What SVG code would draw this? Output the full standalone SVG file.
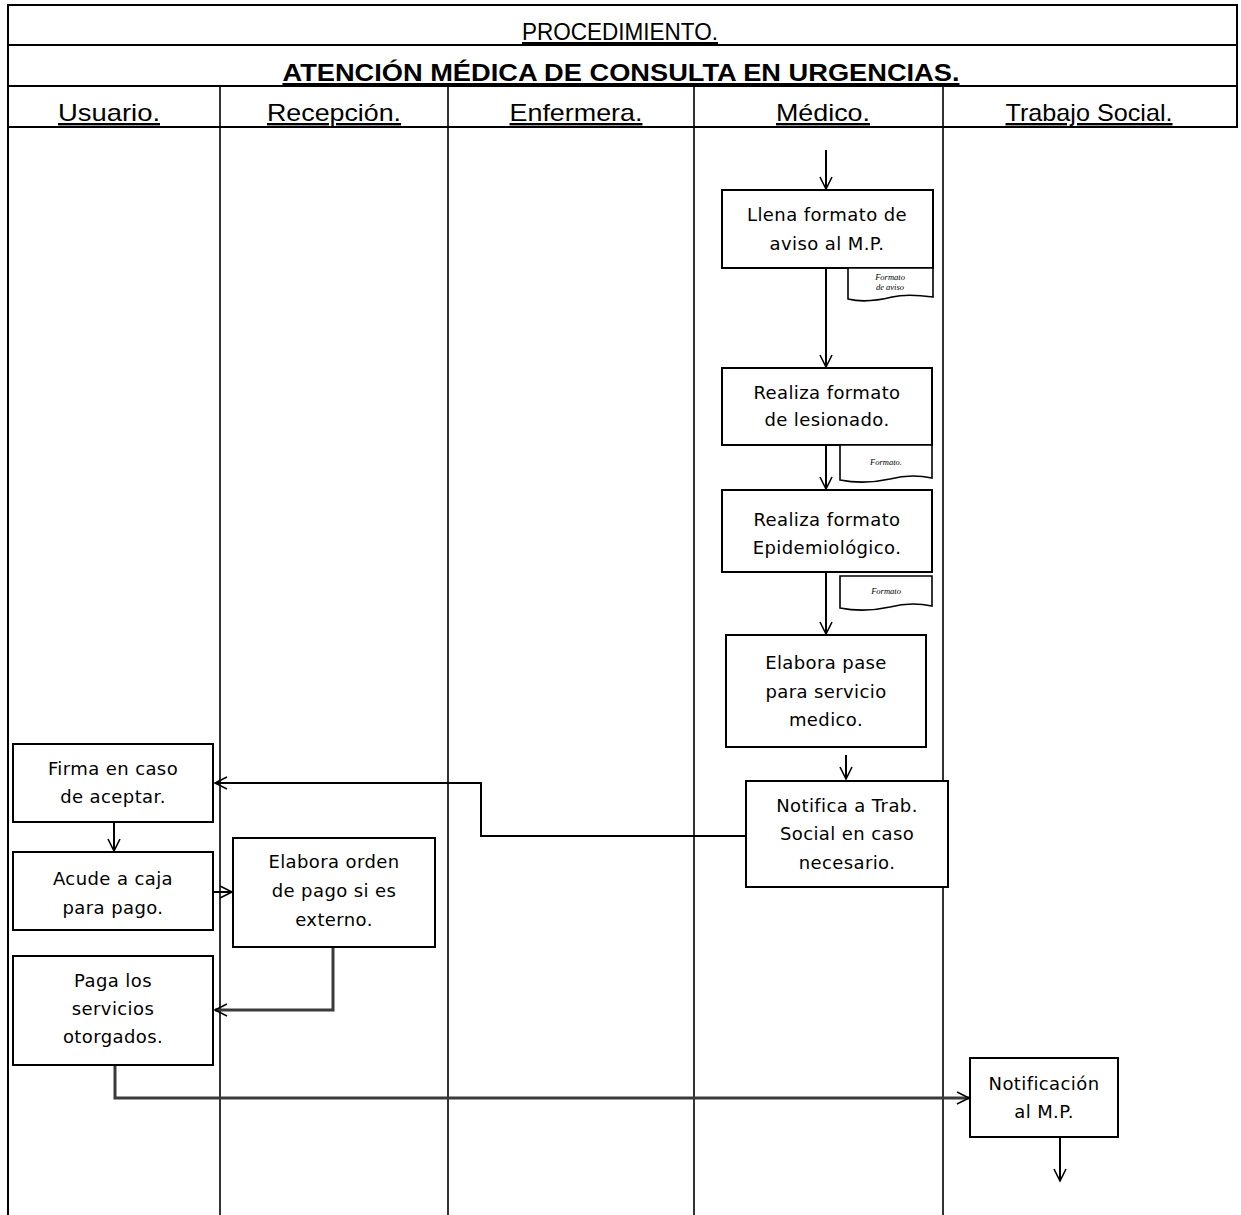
<svg xmlns="http://www.w3.org/2000/svg" width="1241" height="1215" viewBox="0 0 1241 1215">
  <defs>
    <marker id="arrow" markerUnits="userSpaceOnUse" markerWidth="16" markerHeight="16" refX="13" refY="7" orient="auto">
      <path d="M1,1 L13,7 L1,13" fill="none" stroke="#000" stroke-width="1.6"/>
    </marker>
    <style>
      .frame { stroke: #000; stroke-width: 2; fill: none; }
      .lane { stroke: #000; stroke-width: 1.6; fill: none; }
      .box { fill: #fff; stroke: #000; stroke-width: 2; }
      .doc { fill: #fff; stroke: #000; stroke-width: 1.6; }
      .conn { fill: none; stroke: #000; stroke-width: 2; }
      .conn-gray { fill: none; stroke: #3a3a3a; stroke-width: 3; }
      .hdr { font-family: "Liberation Sans", Arial, sans-serif; font-size: 24px; text-anchor: middle; text-decoration: underline; fill: #000; }
      .title { font-family: "Liberation Sans", Arial, sans-serif; font-size: 24px; font-weight: bold; text-anchor: middle; text-decoration: underline; fill: #000; }
      .lbl { font-family: "DejaVu Sans", Verdana, sans-serif; font-size: 18px; letter-spacing: 0.4px; text-anchor: middle; fill: #000; }
      .tiny { font-family: "Liberation Serif", serif; font-size: 8.5px; font-style: italic; text-anchor: middle; fill: #000; }
    </style>
  </defs>

  <rect width="1241" height="1215" fill="#fff"/>

  <!-- table frame and header rows -->
  <g id="frame">
    <line class="frame" x1="8" y1="5" x2="1237" y2="5"/>
    <line class="frame" x1="8" y1="45" x2="1237" y2="45"/>
    <line class="frame" x1="8" y1="86" x2="1237" y2="86"/>
    <line class="frame" x1="8" y1="127" x2="1237" y2="127"/>
    <line class="frame" x1="8" y1="4" x2="8" y2="1215" stroke-width="2.5"/>
    <line class="frame" x1="1237" y1="4" x2="1237" y2="128"/>
    <line class="lane" x1="220" y1="86" x2="220" y2="1215"/>
    <line class="lane" x1="448" y1="86" x2="448" y2="1215"/>
    <line class="lane" x1="694" y1="86" x2="694" y2="1215"/>
    <line class="lane" x1="943" y1="86" x2="943" y2="1215"/>
    <text class="hdr" x="620" y="40" textLength="196" lengthAdjust="spacingAndGlyphs">PROCEDIMIENTO.</text>
    <text class="title" x="621" y="81" textLength="677" lengthAdjust="spacingAndGlyphs">ATENCIÓN MÉDICA DE CONSULTA EN URGENCIAS.</text>
    <text class="hdr" x="109" y="121" textLength="102" lengthAdjust="spacingAndGlyphs">Usuario.</text>
    <text class="hdr" x="334" y="121" textLength="134" lengthAdjust="spacingAndGlyphs">Recepción.</text>
    <text class="hdr" x="576" y="121" textLength="133" lengthAdjust="spacingAndGlyphs">Enfermera.</text>
    <text class="hdr" x="823" y="121" textLength="94" lengthAdjust="spacingAndGlyphs">Médico.</text>
    <text class="hdr" x="1089" y="121" textLength="167" lengthAdjust="spacingAndGlyphs">Trabajo Social.</text>
  </g>

  <!-- connectors -->
  <g id="connectors">
    <line class="conn" x1="826" y1="150" x2="826" y2="189" marker-end="url(#arrow)"/>
    <line class="conn" x1="826" y1="268" x2="826" y2="367" marker-end="url(#arrow)"/>
    <line class="conn" x1="826" y1="445" x2="826" y2="489" marker-end="url(#arrow)"/>
    <line class="conn" x1="826" y1="572" x2="826" y2="634" marker-end="url(#arrow)"/>
    <line class="conn" x1="846" y1="755" x2="846" y2="779" marker-end="url(#arrow)"/>
    <polyline class="conn" points="746,836 481,836 481,783 215,783" marker-end="url(#arrow)"/>
    <line class="conn" x1="114" y1="822" x2="114" y2="851" marker-end="url(#arrow)"/>
    <line class="conn" x1="213" y1="892" x2="232" y2="892" marker-end="url(#arrow)"/>
    <polyline class="conn-gray" points="333,947 333,1010 215,1010" marker-end="url(#arrow)"/>
    <polyline class="conn-gray" points="115,1065 115,1098 969,1098" marker-end="url(#arrow)"/>
    <line class="conn" x1="1060" y1="1137" x2="1060" y2="1181" marker-end="url(#arrow)"/>
  </g>

  <!-- Médico lane -->
  <g id="llena-formato">
    <rect class="box" x="722" y="190" width="211" height="78"/>
    <text class="lbl" x="827" y="221">Llena formato de</text>
    <text class="lbl" x="827" y="250">aviso al M.P.</text>
  </g>
  <g id="doc-aviso">
    <path class="doc" d="M848,268 H933 V297 C918,295 905,294 892,297 C876,301 860,302 848,299 Z"/>
    <text class="tiny" x="890" y="280">Formato</text>
    <text class="tiny" x="890" y="290">de aviso</text>
  </g>

  <g id="formato-lesionado">
    <rect class="box" x="722" y="368" width="210" height="77"/>
    <text class="lbl" x="827" y="399">Realiza formato</text>
    <text class="lbl" x="827" y="426">de lesionado.</text>
  </g>
  <g id="doc-lesionado">
    <path class="doc" d="M840,445 H932 V478 C918,475 905,475 890,479 C872,483 855,483 840,480 Z"/>
    <text class="tiny" x="886" y="465">Formato.</text>
  </g>

  <g id="formato-epidemiologico">
    <rect class="box" x="722" y="490" width="210" height="82"/>
    <text class="lbl" x="827" y="526">Realiza formato</text>
    <text class="lbl" x="827" y="554">Epidemiológico.</text>
  </g>
  <g id="doc-epidemiologico">
    <path class="doc" d="M840,576 H932 V606 C918,603 905,603 890,607 C872,611 855,611 840,608 Z"/>
    <text class="tiny" x="886" y="594">Formato</text>
  </g>

  <g id="elabora-pase">
    <rect class="box" x="726" y="635" width="200" height="112"/>
    <text class="lbl" x="826" y="669">Elabora pase</text>
    <text class="lbl" x="826" y="698">para servicio</text>
    <text class="lbl" x="826" y="726">medico.</text>
  </g>

  <g id="notifica-trab-social">
    <rect class="box" x="746" y="781" width="202" height="106"/>
    <text class="lbl" x="847" y="812">Notifica a Trab.</text>
    <text class="lbl" x="847" y="840">Social en caso</text>
    <text class="lbl" x="847" y="869">necesario.</text>
  </g>

  <!-- Usuario lane -->
  <g id="firma">
    <rect class="box" x="13" y="744" width="200" height="78"/>
    <text class="lbl" x="113" y="775">Firma en caso</text>
    <text class="lbl" x="113" y="803">de aceptar.</text>
  </g>
  <g id="acude-caja">
    <rect class="box" x="13" y="852" width="200" height="78"/>
    <text class="lbl" x="113" y="885">Acude a caja</text>
    <text class="lbl" x="113" y="914">para pago.</text>
  </g>
  <g id="paga-servicios">
    <rect class="box" x="13" y="956" width="200" height="109"/>
    <text class="lbl" x="113" y="987">Paga los</text>
    <text class="lbl" x="113" y="1015">servicios</text>
    <text class="lbl" x="113" y="1043">otorgados.</text>
  </g>

  <!-- Recepción lane -->
  <g id="orden-pago">
    <rect class="box" x="233" y="838" width="202" height="109"/>
    <text class="lbl" x="334" y="868">Elabora orden</text>
    <text class="lbl" x="334" y="897">de pago si es</text>
    <text class="lbl" x="334" y="926">externo.</text>
  </g>

  <!-- Trabajo Social lane -->
  <g id="notificacion-mp">
    <rect class="box" x="970" y="1058" width="148" height="79"/>
    <text class="lbl" x="1044" y="1090">Notificación</text>
    <text class="lbl" x="1044" y="1118">al M.P.</text>
  </g>
</svg>
